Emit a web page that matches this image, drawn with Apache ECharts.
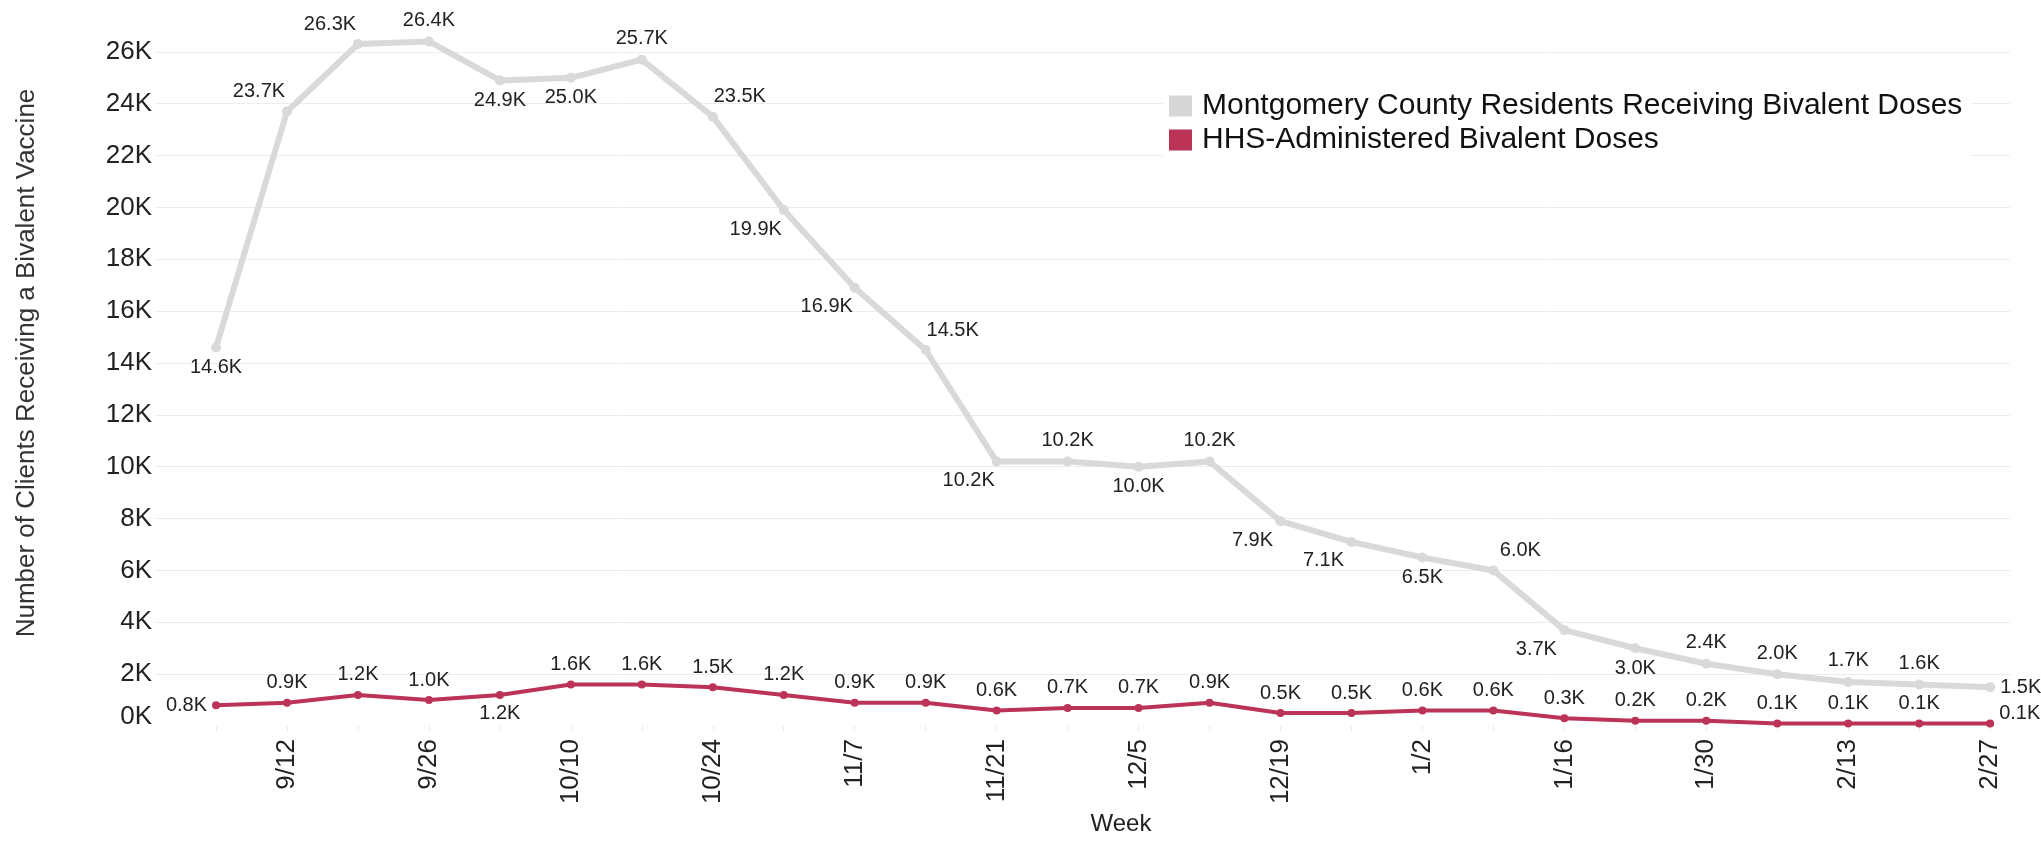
<!DOCTYPE html>
<html>
<head>
<meta charset="utf-8">
<script src="https://cdn.jsdelivr.net/npm/echarts@6/dist/echarts.min.js"></script>
<style>
  html, body { margin: 0; padding: 0; background: #fff; }
  #chart { width: 2041px; height: 841px; }
</style>
</head>
<body>
<div id="chart"></div>
<script>
// ---- Data ----
const weeks = ['9/5','9/12','9/19','9/26','10/3','10/10','10/17','10/24','10/31','11/7','11/14','11/21','11/28','12/5','12/12','12/19','12/26','1/2','1/9','1/16','1/23','1/30','2/6','2/13','2/20','2/27'];
const residentsDoses = [14600,23700,26300,26400,24900,25000,25700,23500,19900,16900,14500,10200,10200,10000,10200,7900,7100,6500,6000,3700,3000,2400,2000,1700,1600,1500];
const hhsDoses = [800,900,1200,1000,1200,1600,1600,1500,1200,900,900,600,700,700,900,500,500,600,600,300,200,200,100,100,100,100];
const seriesNames = ['Montgomery County Residents Receiving Bivalent Doses', 'HHS-Administered Bivalent Doses'];
const yTicks = [0,2000,4000,6000,8000,10000,12000,14000,16000,18000,20000,22000,24000,26000];

// ---- Label placement (style only) ----
const grayPlace = ['b','tl','tl','t','b','b','t','tr','bl','bl','tr','bl','t','b','t','bl','bl','b','tr','bl','b','t','t','t','t','r'];
const hhsPlace  = ['l','t','t','t','b','t','t','t','t','t','t','t','t','t','t','t','t','t','t','t','t','t','t','t','t','r'];

const FONT = "'Liberation Sans', Arial, sans-serif";
const GRAY = '#d9d9d9';
const RED = '#bc3358';

function placeLabel(code) {
  switch (code) {
    case 't': return { position: 'top', distance: 6 };
    case 'b': return { position: 'bottom', distance: 5 };
    case 'tl': return { position: 'top', distance: 5, offset: [-28, 0] };
    case 'tr': return { position: 'top', distance: 5, offset: [27, 0] };
    case 'bl': return { position: 'bottom', distance: 4, offset: [-28, 0] };
    case 'l': return { position: 'left', distance: 5 };
    case 'r': return { position: 'right', distance: 5 };
  }
}
function fmtK(v) { return (v / 1000).toFixed(1) + 'K'; }

const grayData = residentsDoses.map((v, i) => ({ value: [i, v], label: placeLabel(grayPlace[i]) }));
const hhsData = hhsDoses.map((v, i) => {
  const l = placeLabel(hhsPlace[i]);
  if (i === hhsDoses.length - 1) l.offset = [0, -10];
  return { value: [i, v], label: l };
});

const idx = weeks.map((_, i) => i);
const splitColors = yTicks.map((t) => t === 0 ? 'rgba(0,0,0,0)' : '#ececec').concat(['rgba(0,0,0,0)']);

const chart = echarts.init(document.getElementById('chart'), null, { renderer: 'canvas' });
chart.setOption({
  animation: false,
  backgroundColor: '#ffffff',
  textStyle: { fontFamily: FONT },
  grid: { left: 156, right: 31, top: 0, bottom: 106, containLabel: false },
  legend: {
    orient: 'vertical',
    left: 1163,
    top: 83,
    padding: [8, 9, 10, 6],
    backgroundColor: '#ffffff',
    itemWidth: 23,
    itemHeight: 21,
    itemGap: 4,
    icon: 'rect',
    data: [
      { name: seriesNames[0], itemStyle: { color: '#d7d7d7' } },
      { name: seriesNames[1], itemStyle: { color: RED } }
    ],
    textStyle: { fontSize: 30, lineHeight: 30, color: '#111', fontFamily: FONT, padding: [0, 0, 0, 5] }
  },
  xAxis: {
    type: 'value',
    min: -0.846,
    max: 25.28,
    axisLine: { show: false },
    splitLine: { show: false },
    axisTick: { show: true, customValues: idx, length: 5, lineStyle: { color: '#e8e8e8' } },
    axisLabel: {
      customValues: idx.filter(i => i % 2 === 1),
      formatter: v => weeks[Math.round(v)],
      rotate: 90,
      fontSize: 26,
      margin: 13,
      color: '#222',
      fontFamily: FONT
    },
    name: 'Week',
    nameLocation: 'middle',
    nameGap: 80,
    nameTextStyle: { fontSize: 24, color: '#222', fontFamily: FONT, padding: [0, 0, 0, 76] }
  },
  yAxis: {
    type: 'value',
    min: 0,
    max: 28000,
    interval: 2000,
    axisLine: { show: false },
    axisTick: { show: false },
    splitLine: { show: true, lineStyle: { color: splitColors, width: 1 } },
    axisLabel: {
      showMaxLabel: false,
      fontSize: 26,
      color: '#222',
      margin: 4,
      fontFamily: FONT,
      formatter: v => v === 0 ? '{z|0K}' : (v / 1000) + 'K',
      rich: { z: { fontSize: 26, color: '#222', fontFamily: FONT, padding: [0, 0, 19, 0] } }
    },
    name: 'Number of Clients Receiving a Bivalent Vaccine',
    nameLocation: 'middle',
    nameGap: 116,
    nameTextStyle: { fontSize: 26, color: '#333', fontFamily: FONT, padding: [0, 0, 0, 0] }
  },
  series: [
    {
      name: seriesNames[0],
      type: 'line',
      data: grayData,
      symbol: 'circle',
      symbolSize: 10,
      clip: false,
      lineStyle: { color: GRAY, width: 6 },
      itemStyle: { color: GRAY },
      label: { show: true, fontSize: 20, color: '#222', fontFamily: FONT, formatter: p => fmtK(p.value[1]) },
      z: 2
    },
    {
      name: seriesNames[1],
      type: 'line',
      data: hhsData,
      symbol: 'circle',
      symbolSize: 8,
      clip: false,
      lineStyle: { color: RED, width: 4 },
      itemStyle: { color: RED },
      label: { show: true, fontSize: 20, color: '#222', fontFamily: FONT, formatter: p => fmtK(p.value[1]) },
      z: 3
    }
  ]
});
</script>
</body>
</html>
